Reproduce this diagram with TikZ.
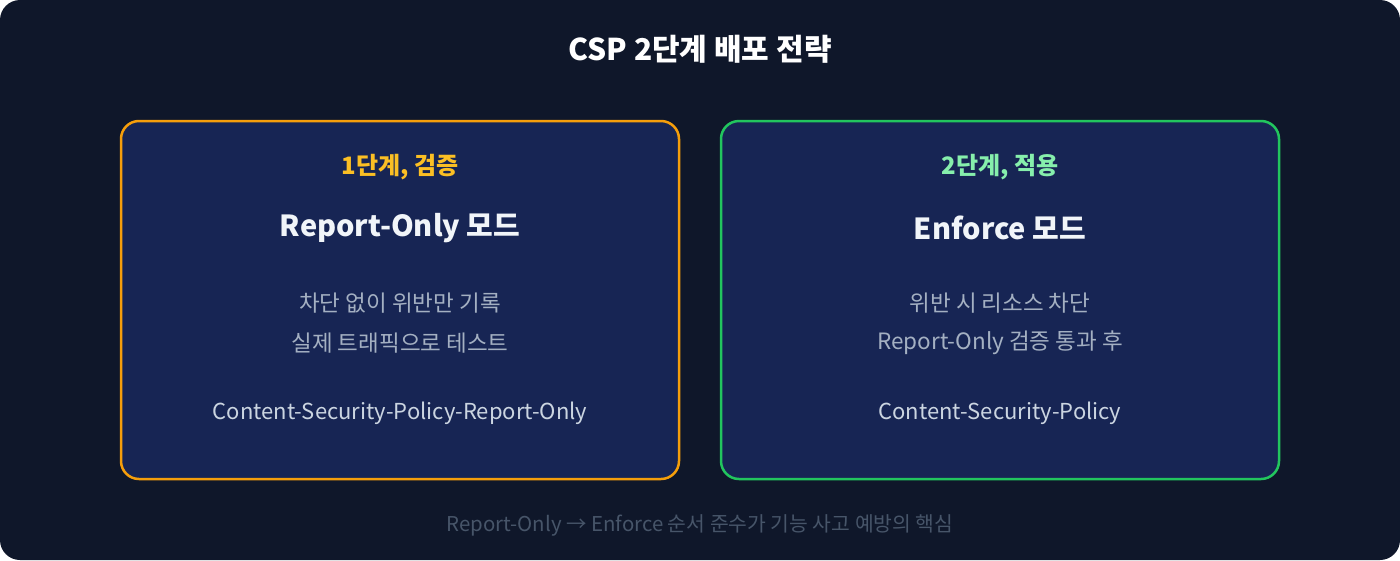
\documentclass[tikz,border=0pt]{standalone}
\usepackage{fontspec}
\setmainfont{Noto Sans CJK KR}
\definecolor{bgc}{HTML}{0F172A}
\definecolor{boxc}{HTML}{172554}
\definecolor{orangec}{HTML}{F59E0B}
\definecolor{greenc}{HTML}{22C55E}
\definecolor{orangetx}{HTML}{FBBF24}
\definecolor{greentx}{HTML}{86EFAC}
\definecolor{headtx}{HTML}{F1F5F9}
\definecolor{bodytx}{HTML}{A4B0C2}
\definecolor{codetx}{HTML}{CBD5E1}
\definecolor{foottx}{HTML}{475569}
\begin{document}
\begin{tikzpicture}[x=1pt,y=-1pt,
  panel/.style={line width=2.5pt, fill=boxc, rounded corners=18pt},
  stagetx/.style={font=\fontsize{24}{28}\selectfont\bfseries},
  headline/.style={text=headtx, font=\fontsize{29}{34}\selectfont\bfseries},
  bodyline/.style={text=bodytx, font=\fontsize{22.5}{26}\selectfont},
  codeline/.style={text=codetx, font=\fontsize{22}{26}\selectfont}]
\fill[white] (0,0) rectangle (1400,560);
\fill[bgc, rounded corners=20pt] (0,0) rectangle (1400,560);
\useasboundingbox (0,0) rectangle (1400,560);
\node[text=white, font=\fontsize{30}{34}\selectfont\bfseries] (title) at (700,49) {CSP 2단계 배포 전략};
\draw[panel, draw=orangec] (121,121) rectangle (679,479);
\draw[panel, draw=greenc] (721,121) rectangle (1279,479);
\node[stagetx, text=orangetx] (s1) at (400,167) {1단계, 검증};
\node[headline] (h1) at (400,228) {Report-Only 모드};
\node[bodyline] (b1a) at (400,303) {차단 없이 위반만 기록};
\node[bodyline] (b1b) at (400,343) {실제 트래픽으로 테스트};
\node[codeline] (c1) at (400,413) {Content-Security-Policy-Report-Only};
\node[stagetx, text=greentx] (s2) at (1000,167) {2단계, 적용};
\node[headline] (h2) at (1000,228) {Enforce 모드};
\node[bodyline] (b2a) at (1000,303) {위반 시 리소스 차단};
\node[bodyline] (b2b) at (1000,343) {Report-Only 검증 통과 후};
\node[codeline] (c2) at (1000,413) {Content-Security-Policy};
\node[text=foottx, font=\fontsize{20.4}{24}\selectfont] (foot) at (700,525) {Report-Only → Enforce 순서 준수가 기능 사고 예방의 핵심};
\end{tikzpicture}
\end{document}
